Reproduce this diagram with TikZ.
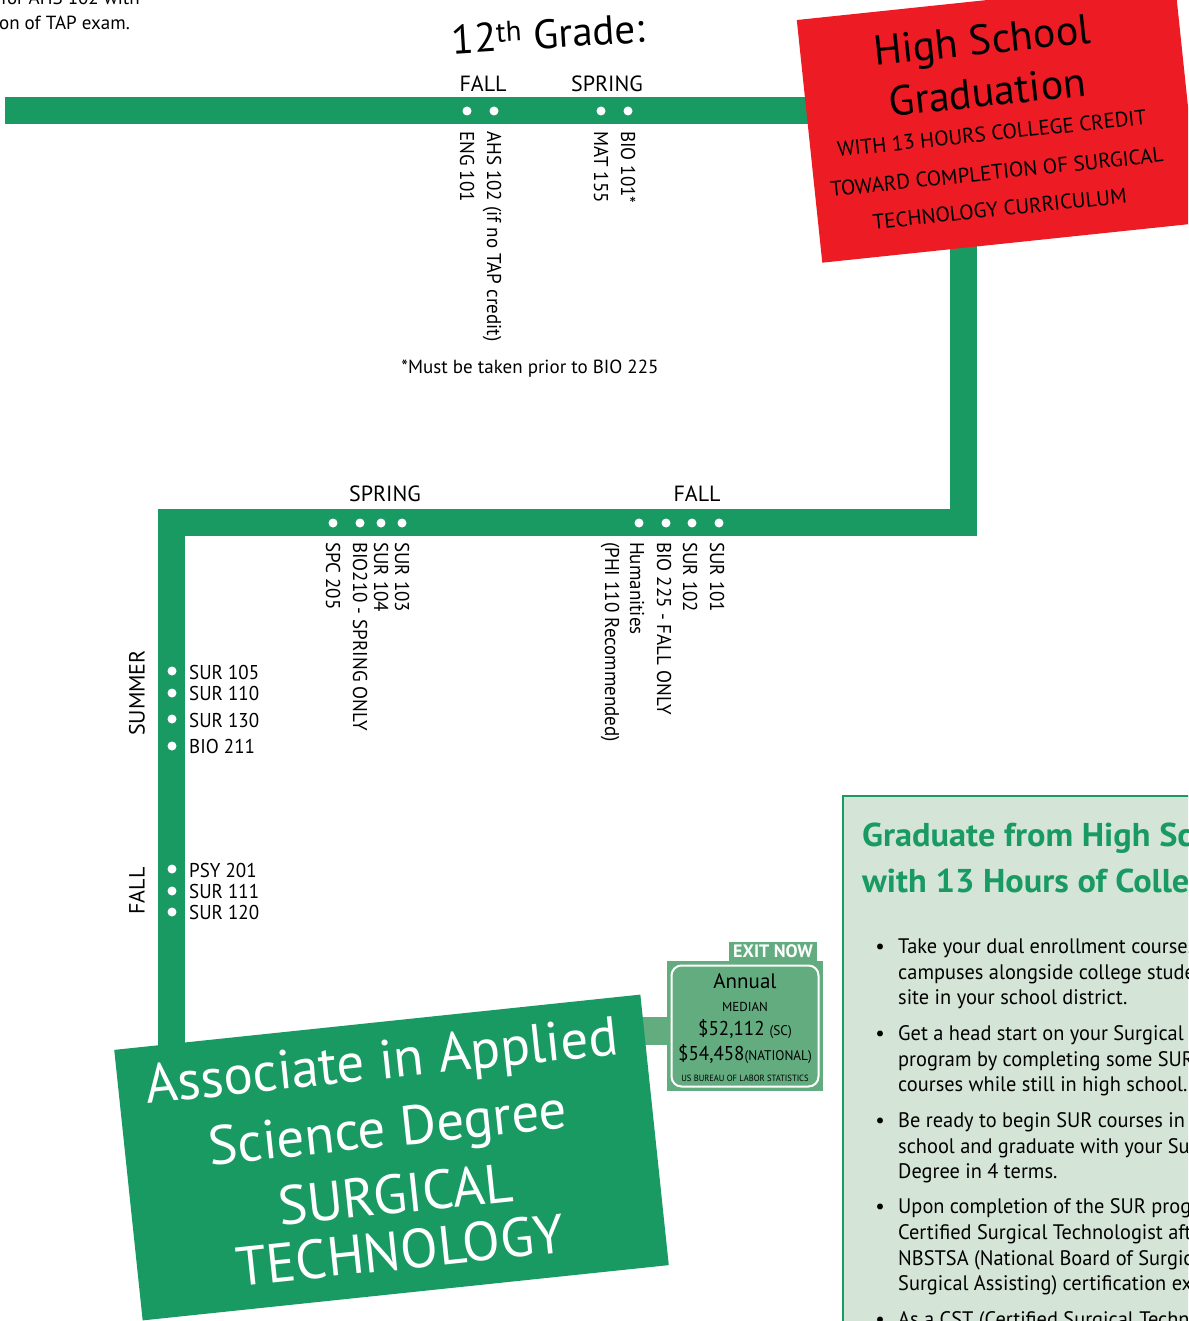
\documentclass[tikz,border=0pt]{standalone}
\usepackage{fontspec}
\setmainfont{PT Sans}
\newfontfamily\condfont{PT Sans}[FakeStretch=0.95]
\newfontfamily\headfont{PT Sans}[FakeStretch=1.04]
\newfontfamily\bodyfont{PT Sans}[FakeStretch=0.97]
\definecolor{trackgreen}{RGB}{26,154,99}
\definecolor{hsred}{RGB}{237,28,36}
\definecolor{exitgreen}{RGB}{99,172,128}
\definecolor{panelbg}{RGB}{212,228,214}
\newcommand\pxsize[1]{\fontsize{#1}{#1}\selectfont}
\pgfdeclarelayer{bg}
\pgfdeclarelayer{tracks}
\pgfsetlayers{bg,tracks,main}
\begin{document}
\begin{tikzpicture}[x=1pt,y=-1pt,
  track/.style={draw=trackgreen,line width=27pt,line cap=butt,line join=miter},
  exitbar/.style={draw=exitgreen,line width=28pt,line cap=butt},
  dot/.style={circle,fill=white,inner sep=0pt,minimum size=9pt},
  lbl/.style={font=\condfont\pxsize{20},inner sep=0pt,text height=14pt,text depth=0pt},
  vlbl/.style={lbl,anchor=west,rotate=-90},
  hlbl/.style={lbl,anchor=west},
  term/.style={font=\pxsize{22},inner sep=0pt,text height=15pt,text depth=0pt},
  hsbox/.style={fill=hsred,rotate=6,minimum width=380pt,minimum height=244pt,inner sep=0pt},
  hsbig/.style={font=\pxsize{42},inner sep=0pt},
  hssmall/.style={font=\pxsize{21},inner sep=0pt},
  aasbox/.style={fill=trackgreen,rotate=6,minimum width=529pt,minimum height=272pt,inner sep=0pt},
  aastext/.style={font=\pxsize{55},text=white,inner sep=0pt},
  exitbox/.style={fill=exitgreen,minimum width=156pt,minimum height=130pt,inner sep=0pt},
  exitin/.style={draw=white,line width=2pt,rounded corners=10pt,minimum width=147pt,minimum height=121pt,inner sep=0pt},
  exittag/.style={fill=exitgreen,text=white,font=\bfseries\pxsize{18},minimum width=88pt,minimum height=19pt,inner sep=0pt},
  extxt/.style={inner sep=0pt},
  panelhead/.style={font=\headfont\bfseries\pxsize{33},text=trackgreen,anchor=base west,inner sep=0pt},
  bultxt/.style={font=\bodyfont\pxsize{21},anchor=base west,inner sep=0pt},
  bulmark/.style={font=\pxsize{21},anchor=base,inner sep=0pt},
  note/.style={font=\pxsize{19},inner sep=0pt}
]
\clip (0,0) rectangle (1188,1321);
\begin{pgfonlayer}{bg}
\fill[white] (0,0) rectangle (1188,1321);
\end{pgfonlayer}

% top-left note (cut off)
\node[note,anchor=base east] (n1) at (140,5) {Eligible for AHS 102 with};
\node[note,anchor=base east] (n2) at (130,30) {successful completion of TAP exam.};

% boxes
\node[hsbox] (hs) at (998.5,121.5) {};
\begin{scope}[shift={(hs.center)},rotate=6,transform shape]
  \node[hsbig] (hs1) at (-8,-79) {High School};
  \node[hsbig] (hs2) at (-8,-31) {Graduation};
  \node[hssmall] (hs3) at (-8,11) {WITH 13 HOURS COLLEGE CREDIT};
  \node[hssmall] (hs4) at (-7,50) {TOWARD COMPLETION OF SURGICAL};
  \node[hssmall] (hs5) at (-8,87) {TECHNOLOGY CURRICULUM};
\end{scope}

\node[aasbox] (aas) at (391.5,1157.5) {};
\begin{scope}[shift={(aas.center)},rotate=6,transform shape]
  \node[aastext] (a1) at (0,-93) {Associate in Applied};
  \node[aastext] (a2) at (-1,-25) {Science Degree};
  \node[aastext] (a3) at (0,37) {SURGICAL};
  \node[aastext] (a4) at (-1,93) {TECHNOLOGY};
\end{scope}

\node[exitbox] (exit) at (745,1026) {};
\node[exitin] (exitframe) at (745,1026) {};
\node[exittag] (tag) at (773,951) {EXIT NOW};
\node[extxt,font=\pxsize{21}] (e1) at (745,981) {Annual};
\node[extxt,font=\pxsize{13}] (e2) at (745,1007) {MEDIAN};
\node[extxt,font=\condfont\pxsize{20}] (e3) at (745,1029) {\$52,112 {\pxsize{14}(SC)}};
\node[extxt,font=\condfont\pxsize{20}] (e4) at (745,1054) {\$54,458{\pxsize{14}(NATIONAL)}};
\node[extxt,font=\condfont\pxsize{9}] (e5) at (745,1078) {US BUREAU OF LABOR STATISTICS};

% tracks
\coordinate (t0) at (5,110.5);
\coordinate (rv) at (963,522.5);
\coordinate (lc) at (171,522.5);
\coordinate (exj) at (600,1031);
\begin{pgfonlayer}{tracks}
  \draw[track] (t0) -- (t0 -| hs.center);
  \draw[track] (hs.center -| rv) -- (rv) -- (lc) -- (lc |- aas.center);
  \draw[exitbar] (exj) -- (exj -| exit.west);
\end{pgfonlayer}

% 12th grade
\node[font=\pxsize{41},inner sep=0pt,rotate=3.6] (g12) at (548,34) {12\textsuperscript{th} Grade:};
\node[term] (f12) at (483,84) {FALL};
\node[term] (s12) at (607,84) {SPRING};
\foreach \x/\n in {467/a,494/b,601/c,628/d} \node[dot] (td\n) at (\x,111) {};
\node[vlbl] (c1) at (467,131) {ENG 101};
\node[vlbl] (c2) at (494,131) {AHS 102 (if no TAP credit)};
\node[vlbl] (c3) at (601,131) {MAT 155};
\node[vlbl] (c4) at (628,131) {BIO 101*};
\node[note] (must) at (530,369) {*Must be taken prior to BIO 225};

% first college year
\node[term] (sp1) at (385,494) {SPRING};
\node[term] (fa1) at (697,494) {FALL};
\foreach \x/\n in {333/a,360/b,381/c,402/d,639/e,666/f,692/g,719/h} \node[dot] (md\n) at (\x,523) {};
\node[vlbl] (m1) at (333,542) {SPC 205};
\node[vlbl] (m2) at (360,542) {BIO210 - SPRING ONLY};
\node[vlbl] (m3) at (381,542) {SUR 104};
\node[vlbl] (m4) at (402,542) {SUR 103};
\node[vlbl] (m5) at (612,542) {(PHI 110 Recommended)};
\node[vlbl] (m6) at (637,542) {Humanities};
\node[vlbl] (m7) at (664,542) {BIO 225 - FALL ONLY};
\node[vlbl] (m8) at (690,542) {SUR 102};
\node[vlbl] (m9) at (717,542) {SUR 101};

% left column
\node[term,rotate=90] (sum) at (137,693) {SUMMER};
\node[term,rotate=90] (fal2) at (137,891) {FALL};
\foreach \y/\n in {671/a,693/b,719/c,746/d,869/e,891/f,912/g} \node[dot] (ld\n) at (172,\y) {};
\node[hlbl] (l1) at (189,672) {SUR 105};
\node[hlbl] (l2) at (189,693) {SUR 110};
\node[hlbl] (l3) at (189,720) {SUR 130};
\node[hlbl] (l4) at (189,746) {BIO 211};
\node[hlbl] (l5) at (189,870) {PSY 201};
\node[hlbl] (l6) at (189,891) {SUR 111};
\node[hlbl] (l7) at (189,912) {SUR 120};

% right panel
\path[draw=trackgreen,line width=2.5pt,fill=panelbg] (843,796) rectangle (1230,1360);
\node[panelhead] (ph1) at (862,846) {Graduate from High School};
\node[panelhead] (ph2) at (862,892) {with 13 Hours of College Credit};
\foreach \y in {953,1040,1127,1213,1326} \node[bulmark] at (880,\y) {•};
\node[bultxt] (b11) at (898,953) {Take your dual enrollment courses};
\node[bultxt] (b12) at (898,979) {campuses alongside college students};
\node[bultxt] (b13) at (898,1004) {site in your school district.};
\node[bultxt] (b21) at (898,1040) {Get a head start on your Surgical Technology};
\node[bultxt] (b22) at (898,1066) {program by completing some SUR};
\node[bultxt] (b23) at (898,1091) {courses while still in high school.};
\node[bultxt] (b31) at (898,1127) {Be ready to begin SUR courses in the};
\node[bultxt] (b32) at (898,1153) {school and graduate with your Surgical};
\node[bultxt] (b33) at (898,1178) {Degree in 4 terms.};
\node[bultxt] (b41) at (898,1213) {Upon completion of the SUR program};
\node[bultxt] (b42) at (898,1239) {Certified Surgical Technologist after};
\node[bultxt] (b43) at (898,1265) {NBSTSA (National Board of Surgical};
\node[bultxt] (b44) at (898,1290) {Surgical Assisting) certification exam.};
\node[bultxt] (b51) at (898,1326) {As a CST (Certified Surgical Technologist)};
\end{tikzpicture}
\end{document}
